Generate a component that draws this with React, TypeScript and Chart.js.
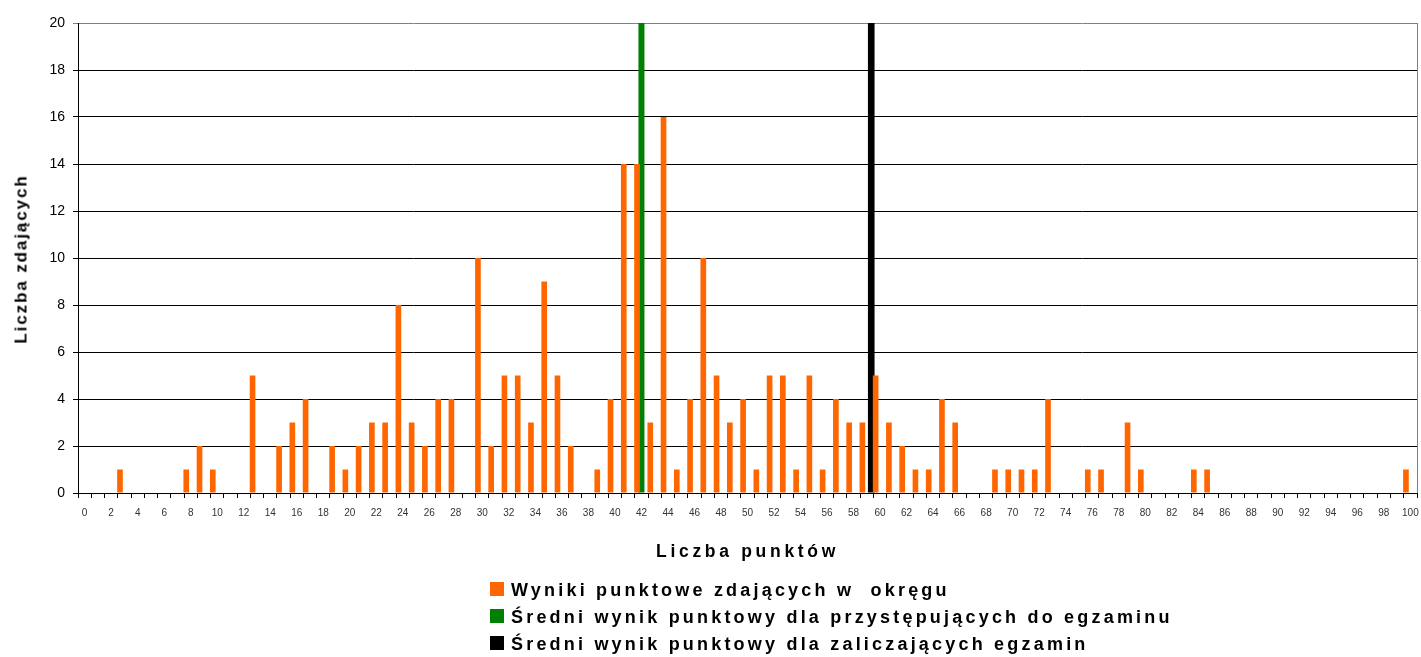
import React, { useEffect, useRef } from "react";
import { Chart, registerables } from "chart.js";

Chart.register(...registerables);

// Categories: number of points (0..100)
const scores: number[] = [
  0, 1, 2, 3, 4, 5, 6, 7, 8, 9, 10, 11, 12, 13, 14, 15, 16, 17, 18, 19,
  20, 21, 22, 23, 24, 25, 26, 27, 28, 29, 30, 31, 32, 33, 34, 35, 36, 37, 38, 39,
  40, 41, 42, 43, 44, 45, 46, 47, 48, 49, 50, 51, 52, 53, 54, 55, 56, 57, 58, 59,
  60, 61, 62, 63, 64, 65, 66, 67, 68, 69, 70, 71, 72, 73, 74, 75, 76, 77, 78, 79,
  80, 81, 82, 83, 84, 85, 86, 87, 88, 89, 90, 91, 92, 93, 94, 95, 96, 97, 98, 99,
  100,
];

// Number of candidates with each score
const counts: number[] = [
  0, 0, 0, 1, 0, 0, 0, 0, 1, 2, 1, 0, 0, 5, 0, 2, 3, 4, 0, 2,
  1, 2, 3, 3, 8, 3, 2, 4, 4, 0, 10, 2, 5, 5, 3, 9, 5, 2, 0, 1,
  4, 14, 14, 3, 16, 1, 4, 10, 5, 3, 4, 1, 5, 5, 1, 5, 1, 4, 3, 3,
  5, 3, 2, 1, 1, 4, 3, 0, 0, 1, 1, 1, 1, 4, 0, 0, 1, 1, 0, 3,
  1, 0, 0, 0, 1, 1, 0, 0, 0, 0, 0, 0, 0, 0, 0, 0, 0, 0, 0, 0,
  1,
];

const meanAllScore = 42; // average for all candidates
const meanPassedScore = 59; // average for those who passed
const markerHeight = 20;

const yTicks: number[] = [0, 2, 4, 6, 8, 10, 12, 14, 16, 18, 20];

const seriesLabels: string[] = [
  "Wyniki punktowe zdających w  okręgu",
  "Średni wynik punktowy dla przystępujących do egzaminu",
  "Średni wynik punktowy dla zaliczających egzamin",
];
const seriesColors: string[] = ["#FF6600", "#008000", "#000000"];

const xTitle = "Liczba punktów";
const yTitle = "Liczba zdających";

const FONT = "'Liberation Sans', Arial, Helvetica, sans-serif";

const borderPlugin = {
  id: "plotBorder",
  afterDraw(chart: any) {
    const { ctx, chartArea } = chart;
    ctx.save();
    ctx.strokeStyle = "#808080";
    ctx.lineWidth = 1;
    ctx.beginPath();
    const x = Math.round(chartArea.right) + 0.5;
    ctx.moveTo(x, Math.round(chartArea.top));
    ctx.lineTo(x, Math.round(chartArea.bottom));
    ctx.stroke();
    ctx.restore();
  },
};

export default function App() {
  const canvasRef = useRef<HTMLCanvasElement | null>(null);

  useEffect(() => {
    const canvas = canvasRef.current;
    if (!canvas) return;
    const chart = new Chart(canvas, {
      type: "bar",
      data: {
        labels: scores.map(String),
        datasets: [
          {
            label: seriesLabels[0],
            data: counts,
            backgroundColor: seriesColors[0],
            categoryPercentage: 1,
            barPercentage: 1.28,
          },
          {
            label: seriesLabels[1],
            data: scores.map((s) => (s === meanAllScore ? markerHeight : null)),
            backgroundColor: seriesColors[1],
            categoryPercentage: 1,
            barPercentage: 1.36,
          },
          {
            label: seriesLabels[2],
            data: scores.map((s) => (s === meanPassedScore ? markerHeight : null)),
            backgroundColor: seriesColors[2],
            categoryPercentage: 1,
            barPercentage: 1.5,
          },
        ],
      },
      options: {
        responsive: false,
        animation: false,
        layout: { padding: { top: 23, right: 4, left: 0, bottom: 0 } },
        plugins: {
          legend: { display: false },
          tooltip: { enabled: false },
        },
        scales: {
          x: {
            grid: {
              drawOnChartArea: false,
              color: "#000",
              tickLength: 5,
              offset: true,
            },
            border: { color: "#000" },
            ticks: {
              autoSkip: false,
              maxRotation: 0,
              minRotation: 0,
              padding: 9,
              color: "#333",
              font: { size: 10, family: FONT },
              callback: (_v: any, i: number) => (i % 2 === 0 ? String(scores[i]) : ""),
            },
            afterFit: (s: any) => {
              s.height = 164;
              s.paddingLeft = 0;
              s.paddingRight = 0;
            },
          },
          y: {
            min: 0,
            max: 20,
            afterBuildTicks: (s: any) => {
              s.ticks = yTicks.map((v) => ({ value: v }));
            },
            grid: {
              color: (c: any) => (c.tick && c.tick.value === 20 ? "#808080" : "#000"),
              tickLength: 5,
            },
            border: { color: "#000" },
            ticks: {
              padding: 8,
              color: "#000",
              font: { size: 14, family: FONT },
            },
            afterFit: (s: any) => {
              s.width = 78;
            },
          },
        },
      },
      plugins: [borderPlugin],
    } as any);
    return () => chart.destroy();
  }, []);

  return (
    <div
      style={{
        position: "absolute",
        left: 0,
        top: 0,
        width: 1421,
        height: 657,
        background: "#fff",
        overflow: "hidden",
        fontFamily: FONT,
      }}
    >
      <canvas
        ref={canvasRef}
        width={1421}
        height={657}
        style={{ position: "absolute", left: 0, top: 0, display: "block" }}
      />
      <div
        style={{
          position: "absolute",
          left: 21,
          top: 259,
          transform: "translate(-50%, -50%) rotate(-90deg)",
          whiteSpace: "nowrap",
          fontWeight: "bold",
          fontSize: 17,
          lineHeight: "17px",
          letterSpacing: "1.9px",
          color: "#000",
        }}
      >
        {yTitle}
      </div>
      <div
        style={{
          position: "absolute",
          left: 656,
          top: 543,
          whiteSpace: "nowrap",
          fontWeight: "bold",
          fontSize: 17.5,
          lineHeight: "17px",
          letterSpacing: "3.7px",
          color: "#000",
        }}
      >
        {xTitle}
      </div>
      <div style={{ position: "absolute", left: 490, top: 577 }}>
        {seriesLabels.map((lbl, i) => (
          <div
            key={i}
            style={{
              height: 27,
              lineHeight: "27px",
              fontSize: 18,
              fontWeight: "bold",
              letterSpacing: "3.2px",
              whiteSpace: "pre",
              color: "#000",
            }}
          >
            <span
              style={{
                display: "inline-block",
                width: 14,
                height: 14,
                background: seriesColors[i],
                marginRight: 7,
                verticalAlign: "baseline",
              }}
            />
            {lbl}
          </div>
        ))}
      </div>
    </div>
  );
}
